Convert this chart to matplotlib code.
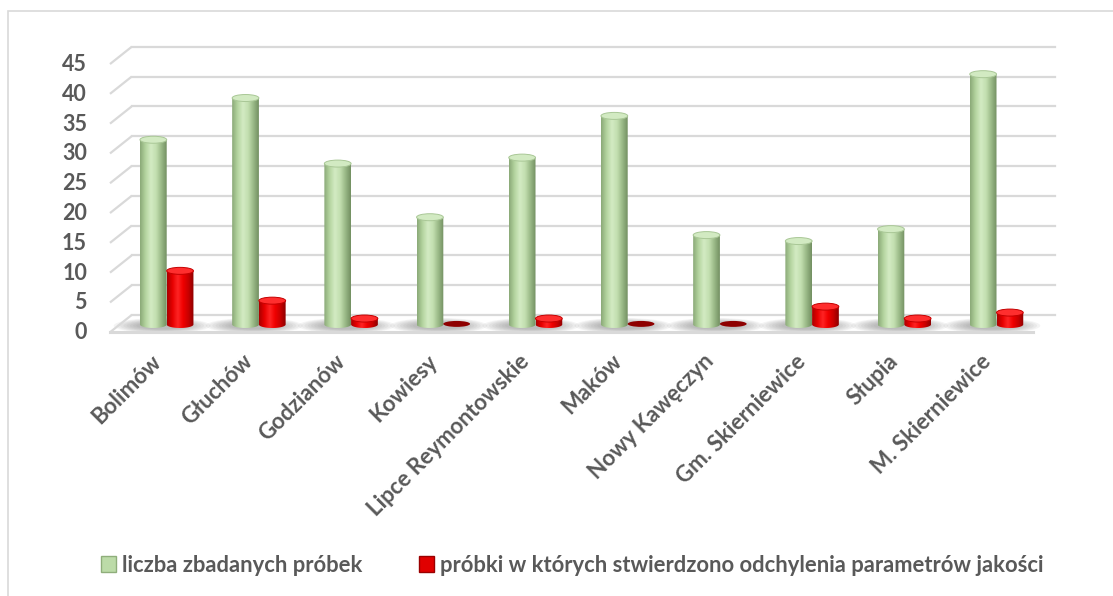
import numpy as np
import matplotlib
matplotlib.use("Agg")
import matplotlib.pyplot as plt
from matplotlib.patches import Ellipse, Polygon, Rectangle, Patch
from matplotlib.colors import LinearSegmentedColormap

plt.rcParams['font.family'] = ['Lato', 'DejaVu Sans']

categories = ["Bolimów", "Głuchów", "Godzianów", "Kowiesy", "Lipce Reymontowskie",
              "Maków", "Nowy Kawęczyn", "Gm. Skierniewice", "Słupia", "M. Skierniewice"]
tested = [31, 38, 27, 18, 28, 35, 15, 14, 16, 42]
deviations = [9, 4, 1, 0, 1, 0, 0, 3, 1, 2]
yticks = list(range(0, 46, 5))
series_names = ["liczba zbadanych próbek",
                "próbki w których stwierdzono odchylenia parametrów jakości"]

W, H = 1113, 596
fig = plt.figure(figsize=(W / 100, H / 100), dpi=100)
ax = fig.add_axes([0, 0, 1, 1])
ax.axis("off")

# pixel mapping of the original: group i centre at 166.7 + 92.2*i px, value 0 at 324.5 px, 5.96 px / unit
px_x, x0 = 92.2, 166.7
px_y, y0 = 5.96, 324.5
xlim = (-x0 / px_x, (W - x0) / px_x)
ylim = ((y0 - H) / px_y, y0 / px_y)

grid_c = "#d9d9d9"
text_c = "#595959"
off = 0.145      # half distance between the two cylinders of a group
bw = 0.29        # cylinder width
eh = 7 / px_y    # ellipse height of caps

# back wall gridlines with left depth diagonals
for v in yticks:
    ax.plot([-0.615, -0.38], [v - 1.3, v + 1.59], color=grid_c, lw=1.6, solid_capstyle="butt")
    ax.plot([-0.38, 9.634], [v + 1.59, v + 1.59], color=grid_c, lw=1.6)
    ax.text(-0.864, v - 1.38, str(v), ha="right", va="center", fontsize=15.5,
            fontweight="bold", color=text_c)
# floor front edge
ax.plot([-0.615, 9.393], [-1.3, -1.3], color=grid_c, lw=2.2)

green_cmap = LinearSegmentedColormap.from_list(
    "g", ["#8aa877", "#b3d39e", "#d3ebc3", "#c3dfb0", "#99b886", "#728f61"])
red_cmap = LinearSegmentedColormap.from_list(
    "r", ["#a80000", "#e60000", "#ff2424", "#f00000", "#c80000", "#8c0000"])
grad = np.linspace(0, 1, 128).reshape(1, -1)

# soft shadows on the floor
for i in range(len(categories)):
    for k in range(8):
        ax.add_patch(Ellipse((i - 0.05, -0.2), 1.05 - k * 0.07, 2.6 - k * 0.2,
                             color="#6f6f6f", alpha=0.07, lw=0, zorder=1))


def cylinder(xc, v, cmap, cap_face, cap_edge, zero_color):
    xl, xr = xc - bw / 2, xc + bw / 2
    if v <= 0:
        ax.add_patch(Ellipse((xc, 0.1), bw, eh * 0.85, facecolor=zero_color,
                             edgecolor="none", zorder=3))
        return
    t = np.linspace(0, np.pi, 40)
    bottom = np.column_stack([xc + bw / 2 * np.cos(t), -eh / 2 * np.sin(t)])
    pts = np.vstack([[xl, v], [xr, v], [xr, 0], bottom, [xl, 0]])
    body = Polygon(pts, closed=True, transform=ax.transData)
    im = ax.imshow(grad, cmap=cmap, extent=[xl, xr, -eh / 2, v], aspect="auto",
                   interpolation="bicubic", zorder=3)
    im.set_clip_path(body)
    ax.add_patch(Ellipse((xc, v), bw, eh, facecolor=cap_face, edgecolor=cap_edge,
                         lw=0.7, zorder=4))


for i, (g, r) in enumerate(zip(tested, deviations)):
    cylinder(i - off, g, green_cmap, "#d2eac2", "#a9c796", None)
    cylinder(i + off, r, red_cmap, "#ff2e2e", "#c40000", "#8e0000")

# category labels
for i, name in enumerate(categories):
    ax.text(i - 0.1, -5.6, name, ha="right", va="center", rotation=45,
            rotation_mode="anchor", fontsize=16, fontweight="bold", color=text_c)

ax.set_xlim(*xlim)
ax.set_ylim(*ylim)

# legend
handles = [Patch(facecolor="#bcdba8", edgecolor="#8fae7b"),
           Patch(facecolor="#e00000", edgecolor="#9a0000")]
leg = fig.legend(handles, series_names, loc="center", bbox_to_anchor=(572 / W, 1 - 565 / H),
                 ncol=2, frameon=False, fontsize=15.8, handlelength=0.7, handleheight=0.7,
                 handletextpad=0.25, columnspacing=2.6)
for t in leg.get_texts():
    t.set_color(text_c)
    t.set_fontweight("bold")

# outer chart frame (cropped at right and bottom)
fig.patches.append(Rectangle((8 / W, -0.1), 2, (H - 11) / H + 0.1, transform=fig.transFigure,
                             fill=False, edgecolor=grid_c, lw=1.2))

fig.savefig("out.png", dpi=100)
